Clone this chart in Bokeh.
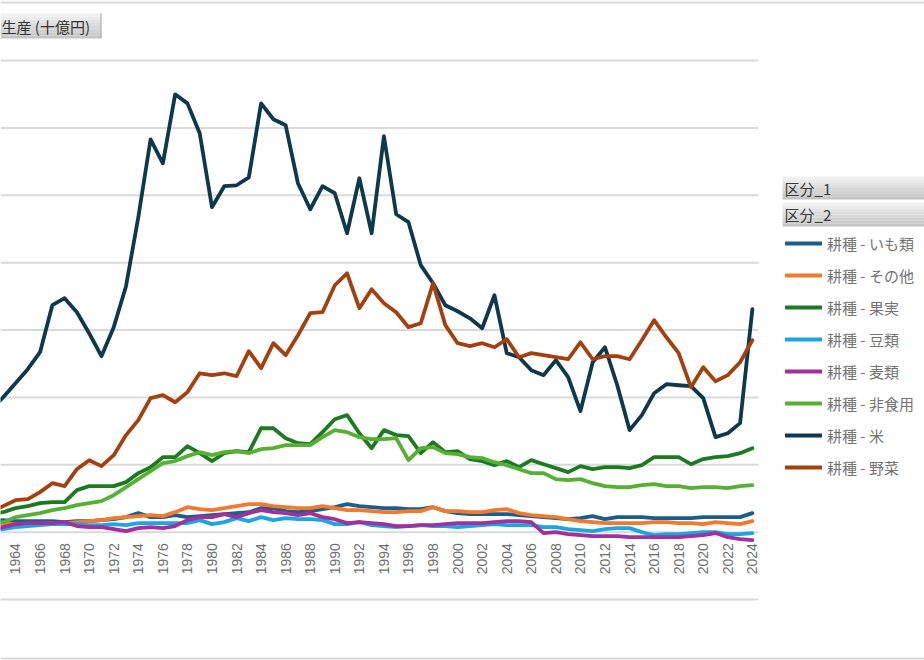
import math
from bokeh.plotting import figure
from bokeh.models import Range1d, Legend, LegendItem, Label, BoxAnnotation, ColumnDataSource
from bokeh.core.properties import value
from bokeh.embed import file_html
from bokeh.resources import INLINE

# ---------------- data (十億円) ----------------
years = list(range(1962, 2025))
tick_years = [1964, 1966, 1968, 1970, 1972, 1974, 1976, 1978, 1980, 1982, 1984, 1986,
              1988, 1990, 1992, 1994, 1996, 1998, 2000, 2002, 2004, 2006, 2008, 2010,
              2012, 2014, 2016, 2018, 2020, 2022, 2024]
tick_labels = [str(t) for t in tick_years]
y_ticks = [-500, 0, 500, 1000, 1500, 2000, 2500, 3000, 3500]

imo = [89, 89, 82, 82, 82, 82, 74, 82, 82, 89,
       96, 111, 141, 111, 111, 126, 111, 119, 126, 134,
       141, 148, 178, 178, 156, 148, 156, 171, 185, 208,
       193, 185, 178, 178, 171, 171, 185, 156, 141, 134,
       134, 134, 134, 126, 119, 111, 104, 96, 104, 119,
       96, 111, 111, 111, 104, 104, 104, 104, 111, 111,
       111, 111, 141]
sonota = [59, 59, 59, 59, 59, 67, 67, 74, 82, 89,
          104, 111, 119, 126, 119, 148, 185, 171, 163, 178,
          193, 208, 208, 193, 185, 178, 178, 193, 178, 163,
          163, 156, 148, 148, 156, 156, 185, 156, 156, 148,
          148, 163, 171, 141, 126, 119, 111, 96, 82, 74,
          67, 67, 67, 67, 74, 74, 67, 67, 59, 74,
          67, 59, 82]
kajitsu = [134, 148, 178, 193, 215, 223, 223, 312, 341, 341,
           341, 371, 438, 482, 556, 556, 638, 586, 527, 586,
           601, 593, 771, 771, 697, 660, 653, 742, 838, 868,
           734, 623, 757, 720, 712, 586, 668, 593, 601, 542,
           527, 497, 527, 482, 534, 504, 475, 445, 490, 467,
           482, 482, 475, 497, 556, 556, 556, 504, 542, 556,
           564, 586, 623]
mame = [15, 22, 37, 45, 52, 59, 59, 59, 52, 52,
        59, 52, 67, 67, 67, 67, 67, 89, 59, 74,
        104, 82, 111, 89, 104, 96, 96, 89, 59, 59,
        74, 52, 45, 37, 45, 52, 45, 45, 37, 45,
        52, 59, 52, 52, 52, 37, 37, 22, 15, 7,
        22, 30, 30, 0, -22, -15, -15, -7, 0, 0,
        -15, -15, -7]
mugi = [22, 37, 59, 67, 67, 67, 74, 45, 37, 37,
        22, 7, 30, 37, 30, 45, 89, 111, 111, 134,
        111, 141, 163, 148, 141, 126, 141, 111, 96, 67,
        74, 67, 59, 45, 45, 52, 52, 59, 67, 67,
        67, 74, 82, 82, 74, -7, 0, -15, -22, -30,
        -30, -30, -37, -37, -37, -37, -37, -30, -22, -7,
        -37, -52, -59]
hishoku = [59, 74, 111, 126, 141, 163, 178, 200, 215, 230,
           274, 334, 393, 452, 512, 527, 564, 593, 571, 593,
           601, 586, 616, 623, 645, 645, 645, 705, 757, 742,
           705, 690, 690, 697, 534, 623, 631, 586, 579, 556,
           549, 519, 497, 467, 438, 438, 393, 386, 393, 363,
           341, 334, 334, 349, 356, 341, 341, 326, 334, 334,
           326, 341, 349]
kome = [905, 1001, 1105, 1209, 1335, 1684, 1736, 1632, 1476, 1306,
        1521, 1825, 2337, 2915, 2737, 3249, 3182, 2960, 2411, 2567,
        2574, 2633, 3182, 3064, 3019, 2589, 2396, 2567, 2515, 2218,
        2626, 2218, 2938, 2359, 2300, 1981, 1847, 1684, 1639, 1587,
        1513, 1758, 1328, 1298, 1202, 1165, 1276, 1150, 898, 1261,
        1372, 1090, 757, 868, 1031, 1098, 1090, 1083, 994, 705,
        734, 809, 1654]
yasai = [148, 193, 237, 245, 297, 363, 341, 467, 534, 490,
         571, 720, 831, 994, 1016, 964, 1039, 1179, 1165, 1179,
         1157, 1343, 1217, 1402, 1313, 1461, 1625, 1632, 1832, 1921,
         1662, 1803, 1699, 1632, 1521, 1550, 1847, 1536, 1402, 1380,
         1402, 1372, 1432, 1298, 1328, 1313, 1298, 1283, 1409, 1283,
         1306, 1306, 1283, 1424, 1573, 1446, 1328, 1076, 1224, 1120,
         1165, 1261, 1424]

series_names = ["耕種 - いも類", "耕種 - その他", "耕種 - 果実", "耕種 - 豆類",
                "耕種 - 麦類", "耕種 - 非食用", "耕種 - 米", "耕種 - 野菜"]
series_values = [imo, sonota, kajitsu, mame, mugi, hishoku, kome, yasai]
series_colors = ["#1c5d89", "#f07b30", "#1e7a22", "#1ca5e0",
                 "#a0309c", "#55b034", "#0e394d", "#a3400f"]

title_text = "生産 (十億円)"
header1 = "区分_1"
header2 = "区分_2"

# ---------------- layout (canvas pixels) ----------------
W, H = 924, 660
PL, PR, PT, PB = 0, 758, 60, 599          # plot area inside the canvas
X_START, X_END = 1962.78, 2024.5          # years shown across the plot area
Y_MIN, Y_MAX = -500, 3500                 # values shown across the plot area
xppu = (PR - PL) / (X_END - X_START)
yppu = (PB - PT) / (Y_MAX - Y_MIN)
JP = "Noto Sans CJK JP"

# the frame covers the whole canvas so that nothing outside the plot area is clipped
p = figure(width=W, height=H, output_backend="svg", toolbar_location=None,
           x_range=Range1d(X_START - PL / xppu, X_START + (W - PL) / xppu),
           y_range=Range1d(Y_MIN - (H - PB) / yppu, Y_MAX + PT / yppu),
           min_border=0, x_axis_location=None, y_axis_location=None,
           title_location=None)
p.outline_line_color = None
p.background_fill_color = "white"
p.border_fill_color = "white"
p.xgrid.visible = False
p.ygrid.visible = False

# horizontal gridlines across the plot area only
p.segment(x0=[X_START] * len(y_ticks), x1=[X_END] * len(y_ticks), y0=y_ticks, y1=y_ticks,
          line_color="#d9d9d9", line_width=2)

# category labels, rotated, sitting just under the zero line
tick_src = ColumnDataSource(dict(x=tick_years, y=[0] * len(tick_years), t=tick_labels))
p.text(x="x", y="y", text="t", source=tick_src, angle=math.pi / 2, text_align="right",
       text_baseline="middle", y_offset=11, text_font=value("Liberation Sans"),
       text_font_size="14px", text_color="#6e6e6e")

renderers = []
for name, vals, col in zip(series_names, series_values, series_colors):
    r = p.line(years, vals, line_color=col, line_width=3.8, line_join="round", line_cap="round")
    renderers.append(r)

def sy(cy):
    # canvas y (top-down) -> screen units (from the frame bottom, upward)
    return H - cy

def grad_box(x0, x1, y0, y1, top="#f0f0f0", bot="#c4c4c4", n=8):
    def hx(c):
        return [int(c[i:i + 2], 16) for i in (1, 3, 5)]
    a, b = hx(top), hx(bot)
    h = (y1 - y0) / n
    for i in range(n):
        t = i / (n - 1)
        c = "#%02x%02x%02x" % tuple(int(round(a[k] + (b[k] - a[k]) * t)) for k in range(3))
        p.add_layout(BoxAnnotation(left=x0, right=x1, top=sy(y0 + i * h), bottom=sy(y0 + (i + 1) * h),
                                   left_units="screen", right_units="screen",
                                   top_units="screen", bottom_units="screen",
                                   fill_color=c, fill_alpha=1, line_color=None))

# chart border lines (top / bottom)
for cy in (2, 658):
    p.add_layout(BoxAnnotation(left=0, right=W, top=sy(cy - 1), bottom=sy(cy + 1),
                               left_units="screen", right_units="screen",
                               top_units="screen", bottom_units="screen",
                               fill_color="#d9d9d9", fill_alpha=1, line_color=None))

# title button
grad_box(0, 101, 13, 38)
p.add_layout(BoxAnnotation(left=100, right=101, top=sy(13), bottom=sy(38),
                           left_units="screen", right_units="screen",
                           top_units="screen", bottom_units="screen",
                           fill_color="#a8a8a8", fill_alpha=1, line_color=None))
p.add_layout(Label(x=1, y=sy(26), x_units="screen", y_units="screen", text=title_text,
                   text_align="left", text_baseline="middle", text_font=JP,
                   text_font_size="15px", text_color="#333333"))

# legend headers
grad_box(782, W, 176, 199)
grad_box(782, W, 202, 226)
p.add_layout(Label(x=784, y=sy(188), x_units="screen", y_units="screen", text=header1,
                   text_align="left", text_baseline="middle", text_font=JP,
                   text_font_size="15px", text_color="#3a3a3a"))
p.add_layout(Label(x=784, y=sy(214), x_units="screen", y_units="screen", text=header2,
                   text_align="left", text_baseline="middle", text_font=JP,
                   text_font_size="15px", text_color="#3a3a3a"))

items = [LegendItem(label=n, renderers=[r]) for n, r in zip(series_names, renderers)]
legend = Legend(items=items, location=(785, sy(478)), orientation="vertical",
                border_line_color=None, background_fill_alpha=0, padding=0, margin=0,
                spacing=10, label_height=22, glyph_height=22, glyph_width=37,
                label_standoff=5, label_text_font=JP, label_text_font_size="15px",
                label_text_color="#737373")
p.add_layout(legend)

open("out.html", "w").write(file_html(p, INLINE))
